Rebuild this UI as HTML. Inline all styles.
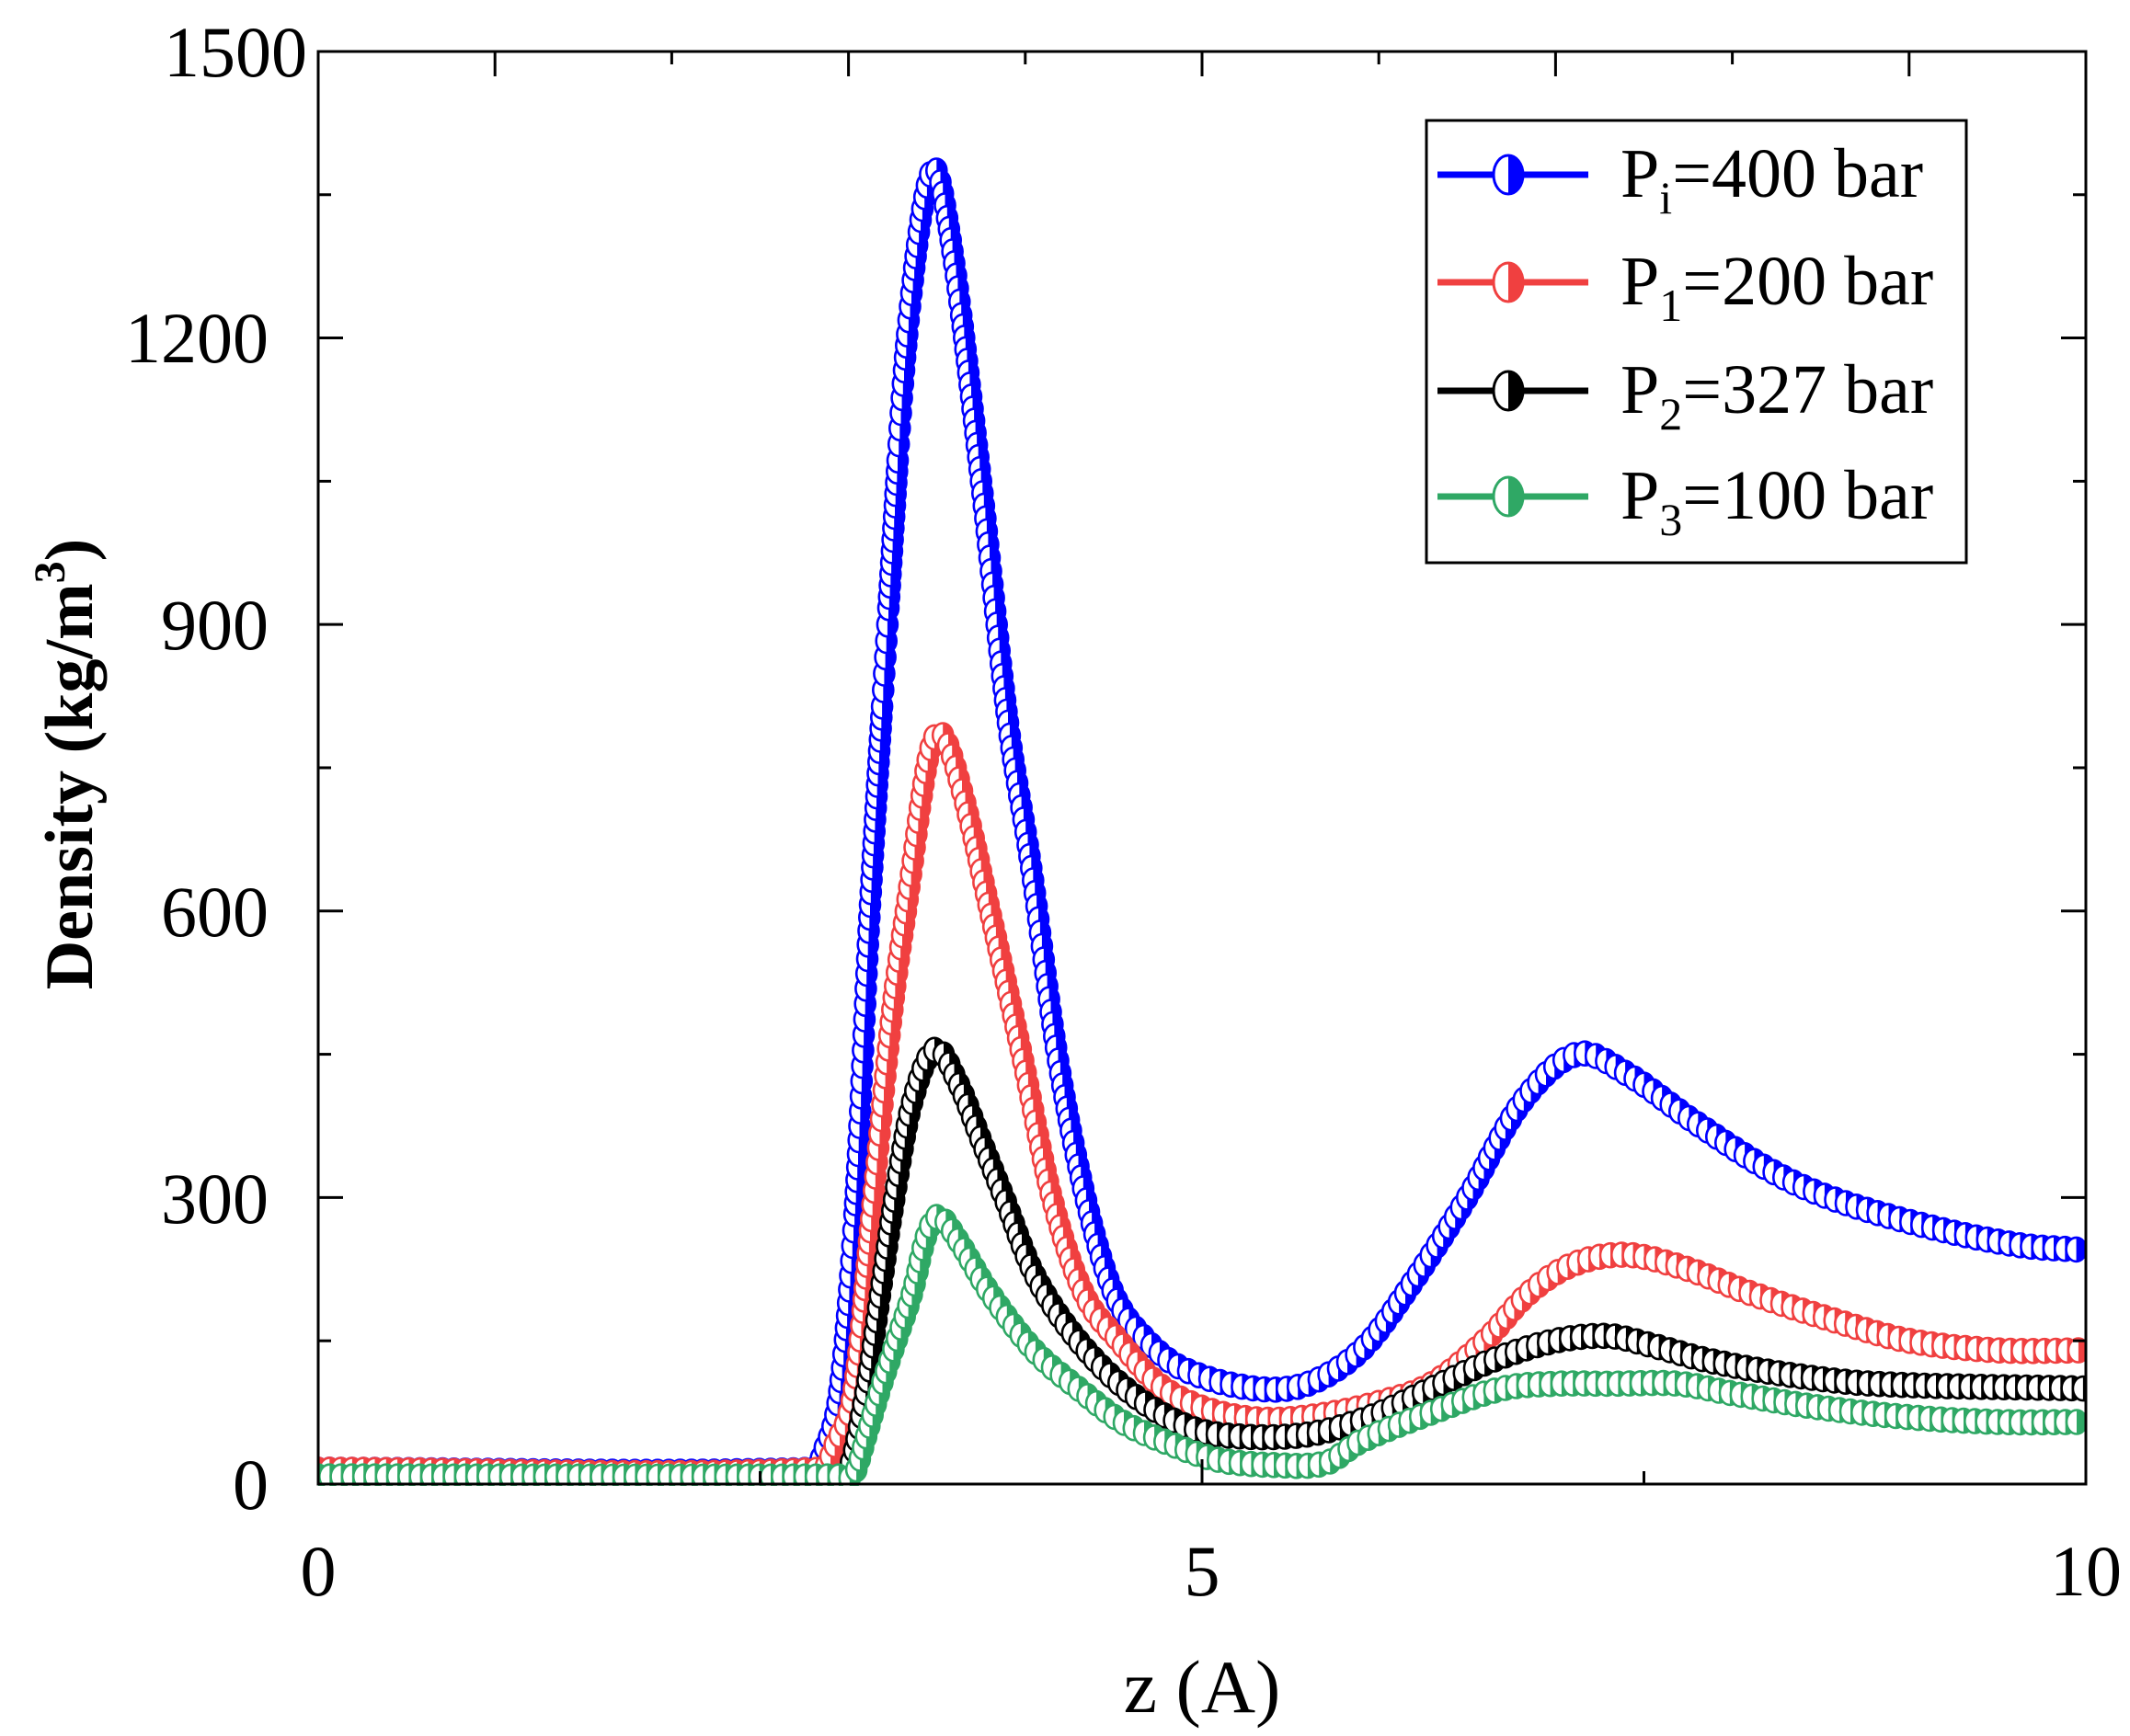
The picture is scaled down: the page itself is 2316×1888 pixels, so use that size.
<!DOCTYPE html>
<html><head><meta charset="utf-8">
<style>
html,body{margin:0;padding:0;background:#fff;}
svg{display:block;}
text{font-family:"Liberation Serif","Times New Roman",serif;fill:#000;}
</style></head>
<body>
<svg id="s" width="2316" height="1888" viewBox="0 0 2316 1888" xmlns="http://www.w3.org/2000/svg">
<defs>
<symbol id="mb" overflow="visible"><ellipse rx="11" ry="13" fill="#fff" stroke="#0000ff" stroke-width="2.6"/><path d="M0,-13 A11,13 0 0 1 0,13 Z" fill="#0000ff"/></symbol>
<symbol id="mr" overflow="visible"><ellipse rx="11" ry="13" fill="#fff" stroke="#f04040" stroke-width="2.6"/><path d="M0,-13 A11,13 0 0 1 0,13 Z" fill="#f04040"/></symbol>
<symbol id="mk" overflow="visible"><ellipse rx="11" ry="13" fill="#fff" stroke="#000" stroke-width="2.6"/><path d="M0,-13 A11,13 0 0 1 0,13 Z" fill="#000"/></symbol>
<symbol id="mg" overflow="visible"><ellipse rx="11" ry="13" fill="#fff" stroke="#2fa865" stroke-width="2.6"/><path d="M0,-13 A11,13 0 0 1 0,13 Z" fill="#2fa865"/></symbol>
<symbol id="lb" overflow="visible"><ellipse rx="16" ry="21" fill="#fff" stroke="#0000ff" stroke-width="3"/><path d="M0,-21 A16,21 0 0 1 0,21 Z" fill="#0000ff"/></symbol>
<symbol id="lr" overflow="visible"><ellipse rx="16" ry="21" fill="#fff" stroke="#f04040" stroke-width="3"/><path d="M0,-21 A16,21 0 0 1 0,21 Z" fill="#f04040"/></symbol>
<symbol id="lk" overflow="visible"><ellipse rx="16" ry="21" fill="#fff" stroke="#000" stroke-width="3"/><path d="M0,-21 A16,21 0 0 1 0,21 Z" fill="#000"/></symbol>
<symbol id="lg" overflow="visible"><ellipse rx="16" ry="21" fill="#fff" stroke="#2fa865" stroke-width="3"/><path d="M0,-21 A16,21 0 0 1 0,21 Z" fill="#2fa865"/></symbol>
<clipPath id="cp"><rect x="346" y="56" width="1922" height="1560"/></clipPath>
</defs>
<g id="data" clip-path="url(#cp)"></g>
<rect x="346" y="56" width="1922" height="1558" fill="none" stroke="#000" stroke-width="3"/>
<g id="ticks" stroke="#000" stroke-width="3"></g>
<g font-size="78" text-anchor="end">
<text x="292" y="1641">0</text>
<text x="292" y="1330">300</text>
<text x="292" y="1018">600</text>
<text x="292" y="706">900</text>
<text x="292" y="394">1200</text>
<text x="334" y="83">1500</text>
</g>
<g font-size="78" text-anchor="middle">
<text x="346" y="1735">0</text>
<text x="1307" y="1735">5</text>
<text x="2268" y="1735">10</text>
<text x="1307" y="1862" font-size="82">z (A)</text>
</g>
<text transform="translate(100,831) rotate(-90)" font-size="74" font-weight="bold" text-anchor="middle">Density (kg/m<tspan font-size="48" dy="-30">3</tspan><tspan dy="30">)</tspan></text>
<rect x="1551" y="131" width="587" height="481" fill="#fff" stroke="#000" stroke-width="3"/>
<g stroke-width="7">
<line x1="1563" y1="190" x2="1727" y2="190" stroke="#0000ff"/>
<line x1="1563" y1="307" x2="1727" y2="307" stroke="#f04040"/>
<line x1="1563" y1="425" x2="1727" y2="425" stroke="#000"/>
<line x1="1563" y1="540" x2="1727" y2="540" stroke="#2fa865"/>
</g>
<use href="#lb" x="1640" y="190"/>
<use href="#lr" x="1640" y="307"/>
<use href="#lk" x="1640" y="425"/>
<use href="#lg" x="1640" y="540"/>
<g font-size="76">
<text x="1762" y="214">P<tspan font-size="50" dy="18">i</tspan><tspan dy="-18">=400 bar</tspan></text>
<text x="1762" y="331">P<tspan font-size="50" dy="18">1</tspan><tspan dy="-18">=200 bar</tspan></text>
<text x="1762" y="449">P<tspan font-size="50" dy="18">2</tspan><tspan dy="-18">=327 bar</tspan></text>
<text x="1762" y="564">P<tspan font-size="50" dy="18">3</tspan><tspan dy="-18">=100 bar</tspan></text>
</g>
</svg>
<script>
(function(){
var NS="http://www.w3.org/2000/svg";
function X(z){return 346+z*192.2;}
function Y(d){return 1614-d*1.0387;}
var series=[
 {c:"#0000ff",m:"mb",p:[[0,15],[2.8,15],[2.85,30],[2.95,100],[3.04,300],[3.12,600],[3.22,900],[3.33,1200],[3.47,1375],[3.58,1300],[3.75,1050],[3.9,800],[4.03,650],[4.18,450],[4.34,300],[4.5,200],[4.69,150],[4.9,120],[5.3,100],[5.6,105],[5.9,140],[6.15,200],[6.5,300],[6.81,400],[7.12,450],[7.4,430],[7.78,380],[8.2,330],[8.55,300],[9.1,270],[9.63,250],[10,245]]},
 {c:"#f04040",m:"mr",p:[[0,15],[2.85,15],[2.92,40],[3.03,100],[3.14,300],[3.25,500],[3.34,620],[3.45,760],[3.53,785],[3.65,720],[3.8,600],[3.98,450],[4.15,300],[4.33,200],[4.53,150],[4.75,105],[5.0,80],[5.3,68],[5.6,70],[6.0,85],[6.3,105],[6.6,150],[6.85,200],[7.1,230],[7.4,240],[7.75,225],[8.1,200],[8.6,170],[9.0,150],[9.5,140],[10,140]]},
 {c:"#000000",m:"mk",p:[[0,5],[2.9,5],[3.0,15],[3.1,100],[3.18,200],[3.26,300],[3.36,400],[3.49,455],[3.62,420],[3.75,360],[3.88,300],[4.05,220],[4.3,150],[4.6,95],[4.92,60],[5.2,50],[5.6,52],[5.95,70],[6.3,100],[6.65,130],[7.0,150],[7.3,155],[7.55,145],[7.85,130],[8.3,115],[8.8,105],[10,100]]},
 {c:"#2fa865",m:"mg",p:[[0,8],[2.95,8],[3.03,10],[3.1,50],[3.18,100],[3.27,150],[3.36,200],[3.44,260],[3.51,280],[3.62,255],[3.8,200],[4.05,140],[4.3,100],[4.55,65],[4.85,40],[5.1,25],[5.4,20],[5.7,22],[5.9,45],[6.3,75],[6.7,100],[7.0,105],[7.3,105],[7.7,105],[8.0,95],[8.5,80],[9.0,70],[9.5,65],[10,65]]}
];
function interp(p,z){
 for(var i=0;i<p.length-1;i++){
  if(z<=p[i+1][0]){
   var a=p[i],b=p[i+1],t=(z-a[0])/(b[0]-a[0]);
   var p0=p[Math.max(i-1,0)],p3=p[Math.min(i+2,p.length-1)];
   var m1=(b[1]-p0[1])/(b[0]-p0[0])*(b[0]-a[0]);
   var m2=(p3[1]-a[1])/(p3[0]-a[0])*(b[0]-a[0]);
   var t2=t*t,t3=t2*t;
   return (2*t3-3*t2+1)*a[1]+(t3-2*t2+t)*m1+(-2*t3+3*t2)*b[1]+(t3-t2)*m2;
  }
 }
 return p[p.length-1][1];
}
var g=document.getElementById("data");
series.forEach(function(s){
 var d="",px=null,py=null,acc=1e9;
 var marks=[];
 for(var z=0;z<=10.0001;z+=0.002){
  var x=X(z),y=Y(interp(s.p,z));
  if(px!==null){acc+=Math.hypot(x-px,y-py);}
  if(acc>=12){marks.push([x,y]);acc=0;}
  if(Math.round(z*1000)%10==0) d+=(d?"L":"M")+x.toFixed(1)+","+y.toFixed(1);
  px=x;py=y;
 }
 var pa=document.createElementNS(NS,"path");
 pa.setAttribute("d",d);pa.setAttribute("fill","none");pa.setAttribute("stroke",s.c);pa.setAttribute("stroke-width","6");
 g.appendChild(pa);
 marks.forEach(function(m){
  var u=document.createElementNS(NS,"use");
  u.setAttribute("href","#"+s.m);
  u.setAttribute("x",m[0].toFixed(1));u.setAttribute("y",m[1].toFixed(1));
  g.appendChild(u);
 });
});
var tk=document.getElementById("ticks"),h="";
for(var v=0;v<=1500;v+=150){var y=Y(v),L=(v%300==0)?27:14;
 h+='<line x1="346" y1="'+y+'" x2="'+(346+L)+'" y2="'+y+'"/><line x1="2268" y1="'+y+'" x2="'+(2268-L)+'" y2="'+y+'"/>';}
for(var z=0;z<=10;z+=2.5){var x=X(z),L=(z%5==0)?27:14;
 h+='<line x1="'+x+'" y1="1614" x2="'+x+'" y2="'+(1614-L)+'"/>';}
for(var z=0;z<=10;z+=1){var x=X(z),L=(z%2==0)?14:27;
 h+='<line x1="'+x+'" y1="56" x2="'+x+'" y2="'+(56+L)+'"/>';}
tk.innerHTML=h;
})();
</script>
</body></html>
